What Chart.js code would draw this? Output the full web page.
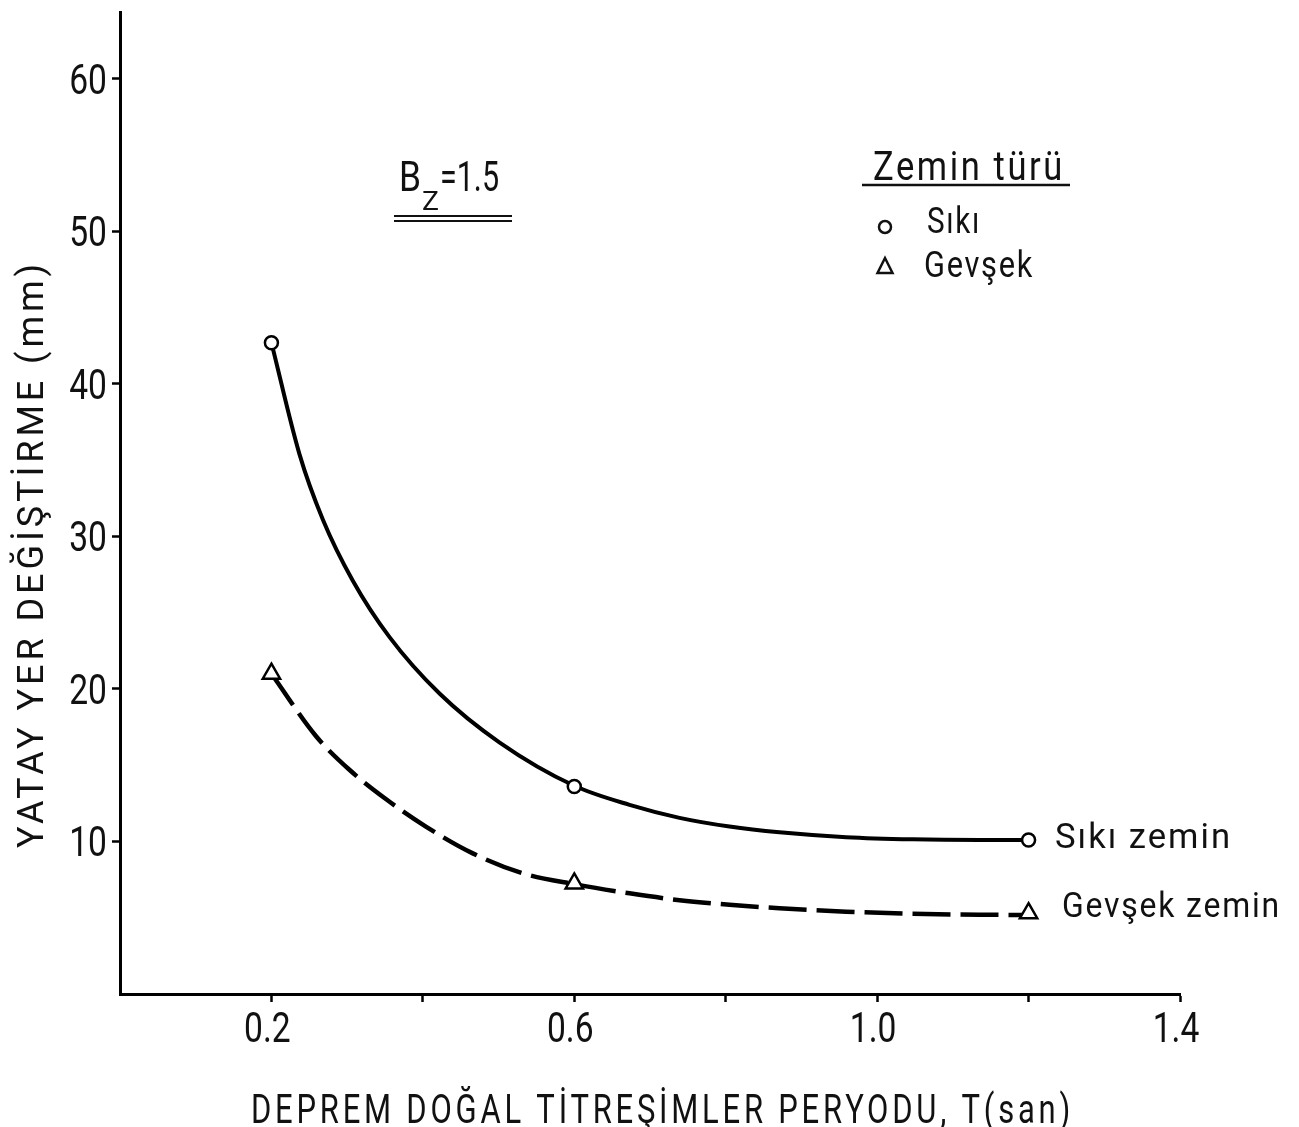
<!DOCTYPE html>
<html>
<head>
<meta charset="utf-8">
<script src="https://cdn.jsdelivr.net/npm/chart.js@4.4.0/dist/chart.umd.min.js"></script>
<style>
  html, body { margin: 0; padding: 0; background: #fff; }
  #chart { display: block; }
</style>
</head>
<body>
<canvas id="chart" width="1299" height="1127"></canvas>
<script>
const FONT = "Roboto, 'DejaVu Sans', sans-serif";
const WEIGHT = 400;
const INK = '#111';

// measured points (markers)
const sikiT = [0.2, 0.6, 1.2];
const sikiY = [42.7, 13.6, 10.1];
const gevsekT = [0.2, 0.6, 1.2];
const gevsekY = [21.0, 7.25, 5.3];

// fitted curves through the points
const sikiCurveT = [0.2, 0.237, 0.268, 0.3075, 0.356, 0.422, 0.501, 0.6, 0.673, 0.739, 0.805, 0.871, 0.959, 1.047, 1.135, 1.2];
const sikiCurveY = [42.7, 35.4, 31.1, 27.1, 23.4, 19.7, 16.5, 13.65, 12.4, 11.55, 10.98, 10.6, 10.28, 10.14, 10.1, 10.1];
const gevsekCurveT = [0.2, 0.259, 0.303, 0.352, 0.4045, 0.466, 0.532, 0.6, 0.673, 0.739, 0.805, 0.871, 0.959, 1.047, 1.135, 1.2];
const gevsekCurveY = [21.0, 16.9, 14.7, 12.75, 10.96, 9.22, 7.91, 7.2, 6.6, 6.15, 5.85, 5.62, 5.4, 5.26, 5.2, 5.18];

// axes
const xTickValues = [0.2, 0.4, 0.6, 0.8, 1.0, 1.2, 1.4];
const xTickLabels = ['0.2', '', '0.6', '', '1.0', '', '1.4'];
const yTickValues = [10, 20, 30, 40, 50, 60];
const yTickLabels = ['10', '20', '30', '40', '50', '60'];

const xTitle = 'DEPREM DOĞAL TİTREŞİMLER PERYODU, T(san)';
const yTitle = 'YATAY YER DEĞİŞTİRME (mm)';
const legendTitle = 'Zemin türü';
const legendNames = ['Sıkı', 'Gevşek'];
const endLabels = ['Sıkı zemin', 'Gevşek zemin'];

const toXY = (ts, ys) => ts.map((t, i) => ({ x: t, y: ys[i] }));

// narrow stencil-like lettering: text scaled horizontally by sx, y is the baseline
function drawText(ctx, text, x, y, size, sx, align, spacing) {
    ctx.save();
    ctx.font = WEIGHT + ' ' + size + 'px ' + FONT;
    ctx.letterSpacing = (spacing || 0) + 'px';
    ctx.textAlign = 'left';
    ctx.textBaseline = 'alphabetic';
    const w = ctx.measureText(text).width * sx;
    let x0 = x;
    if (align === 'center') x0 = x - w / 2;
    if (align === 'right') x0 = x - w;
    ctx.translate(x0, y);
    ctx.scale(sx, 1);
    ctx.fillText(text, 0, 0);
    ctx.restore();
}

// same, but stretched to an exact width
function fitText(ctx, text, x, y, width, size, spacing) {
    ctx.save();
    ctx.font = WEIGHT + ' ' + size + 'px ' + FONT;
    ctx.letterSpacing = (spacing || 0) + 'px';
    const m = ctx.measureText(text).width;
    ctx.restore();
    drawText(ctx, text, x, y, size, width / m, 'left', spacing);
}

function drawCircle(ctx, x, y, r) {
    ctx.beginPath();
    ctx.arc(x, y, r, 0, Math.PI * 2);
    ctx.fillStyle = '#fff';
    ctx.fill();
    ctx.stroke();
}

function drawTriangle(ctx, x, y, s) {
    ctx.beginPath();
    ctx.moveTo(x, y - s * 0.6);
    ctx.lineTo(x + s / 2, y + s * 0.4);
    ctx.lineTo(x - s / 2, y + s * 0.4);
    ctx.closePath();
    ctx.fillStyle = '#fff';
    ctx.fill();
    ctx.stroke();
}

const annotations = {
    id: 'annotations',
    afterDraw(chart) {
        const ctx = chart.ctx;
        const xs = chart.scales.x;
        const ys = chart.scales.y;
        ctx.save();
        ctx.fillStyle = INK;
        ctx.strokeStyle = INK;

        // tick labels
        xTickValues.forEach((v, i) => {
            if (xTickLabels[i]) drawText(ctx, xTickLabels[i], xs.getPixelForValue(v) - 4, 1042, 42, 0.8, 'center');
        });
        yTickValues.forEach((v, i) => {
            drawText(ctx, yTickLabels[i], 107, ys.getPixelForValue(v) + 15, 42, 0.8, 'right');
        });

        // axis titles
        fitText(ctx, xTitle, 251, 1123, 823, 41, 5);
        ctx.save();
        ctx.translate(43, 848);
        ctx.rotate(-Math.PI / 2);
        fitText(ctx, yTitle, 0, 0, 588, 37, 4);
        ctx.restore();

        // B_Z = 1.5 with double underline
        fitText(ctx, 'B', 399, 191, 22, 42);
        fitText(ctx, 'Z', 422, 210, 17, 25);
        fitText(ctx, '=1.5', 440, 191, 59, 42);
        ctx.lineWidth = 2;
        ctx.beginPath();
        ctx.moveTo(394, 216); ctx.lineTo(512, 216);
        ctx.moveTo(394, 221); ctx.lineTo(512, 221);
        ctx.stroke();

        // legend box
        fitText(ctx, legendTitle, 873, 180, 192, 40, 3);
        ctx.lineWidth = 2.5;
        ctx.beginPath();
        ctx.moveTo(862, 185); ctx.lineTo(1070, 185);
        ctx.stroke();
        drawCircle(ctx, 885, 227, 6);
        drawTriangle(ctx, 885, 267, 15);
        ctx.fillStyle = INK;
        fitText(ctx, legendNames[0], 927, 233, 54, 36, 2);
        fitText(ctx, legendNames[1], 924, 277, 110, 36, 2);

        // labels at the curve ends
        fitText(ctx, endLabels[0], 1055, 848, 177, 35, 2);
        fitText(ctx, endLabels[1], 1062, 917, 219, 35, 2);
        ctx.restore();
    }
};

const axisGrid = { drawOnChartArea: false, drawTicks: true, tickLength: 8, tickWidth: 2.5, tickColor: '#000' };

new Chart(document.getElementById('chart'), {
    type: 'scatter',
    data: {
        datasets: [
            {
                label: 'Sıkı',
                data: toXY(sikiT, sikiY),
                showLine: false,
                pointStyle: 'circle',
                pointRadius: 6.5,
                pointBorderWidth: 2.5,
                pointBackgroundColor: '#fff',
                pointBorderColor: '#000'
            },
            {
                label: 'Gevşek',
                data: toXY(gevsekT, gevsekY),
                showLine: false,
                pointStyle: 'triangle',
                pointRadius: 10,
                pointBorderWidth: 2.5,
                pointBackgroundColor: '#fff',
                pointBorderColor: '#000'
            },
            {
                label: 'Sıkı zemin',
                data: toXY(sikiCurveT, sikiCurveY),
                showLine: true,
                pointRadius: 0,
                borderColor: '#000',
                borderWidth: 4,
                cubicInterpolationMode: 'monotone'
            },
            {
                label: 'Gevşek zemin',
                data: toXY(gevsekCurveT, gevsekCurveY),
                showLine: true,
                pointRadius: 0,
                borderColor: '#000',
                borderWidth: 4.5,
                borderDash: [38, 10],
                cubicInterpolationMode: 'monotone'
            }
        ]
    },
    options: {
        responsive: false,
        animation: false,
        events: [],
        layout: { padding: { top: 3, right: 119, left: 0, bottom: 0 } },
        scales: {
            x: {
                type: 'linear',
                min: 0,
                max: 1.4,
                afterBuildTicks: s => { s.ticks = xTickValues.map(v => ({ value: v })); },
                afterFit: s => { s.height = 133; s.paddingLeft = 0; s.paddingRight = 0; },
                grid: axisGrid,
                border: { color: '#000', width: 3 },
                ticks: { display: false }
            },
            y: {
                min: 0,
                max: 64.35,
                afterBuildTicks: s => { s.ticks = yTickValues.map(v => ({ value: v })); },
                afterFit: s => { s.width = 120; s.paddingTop = 0; s.paddingBottom = 0; },
                grid: axisGrid,
                border: { color: '#000', width: 3 },
                ticks: { display: false }
            }
        },
        plugins: {
            legend: { display: false },
            tooltip: { enabled: false }
        }
    },
    plugins: [annotations]
});
</script>
</body>
</html>
